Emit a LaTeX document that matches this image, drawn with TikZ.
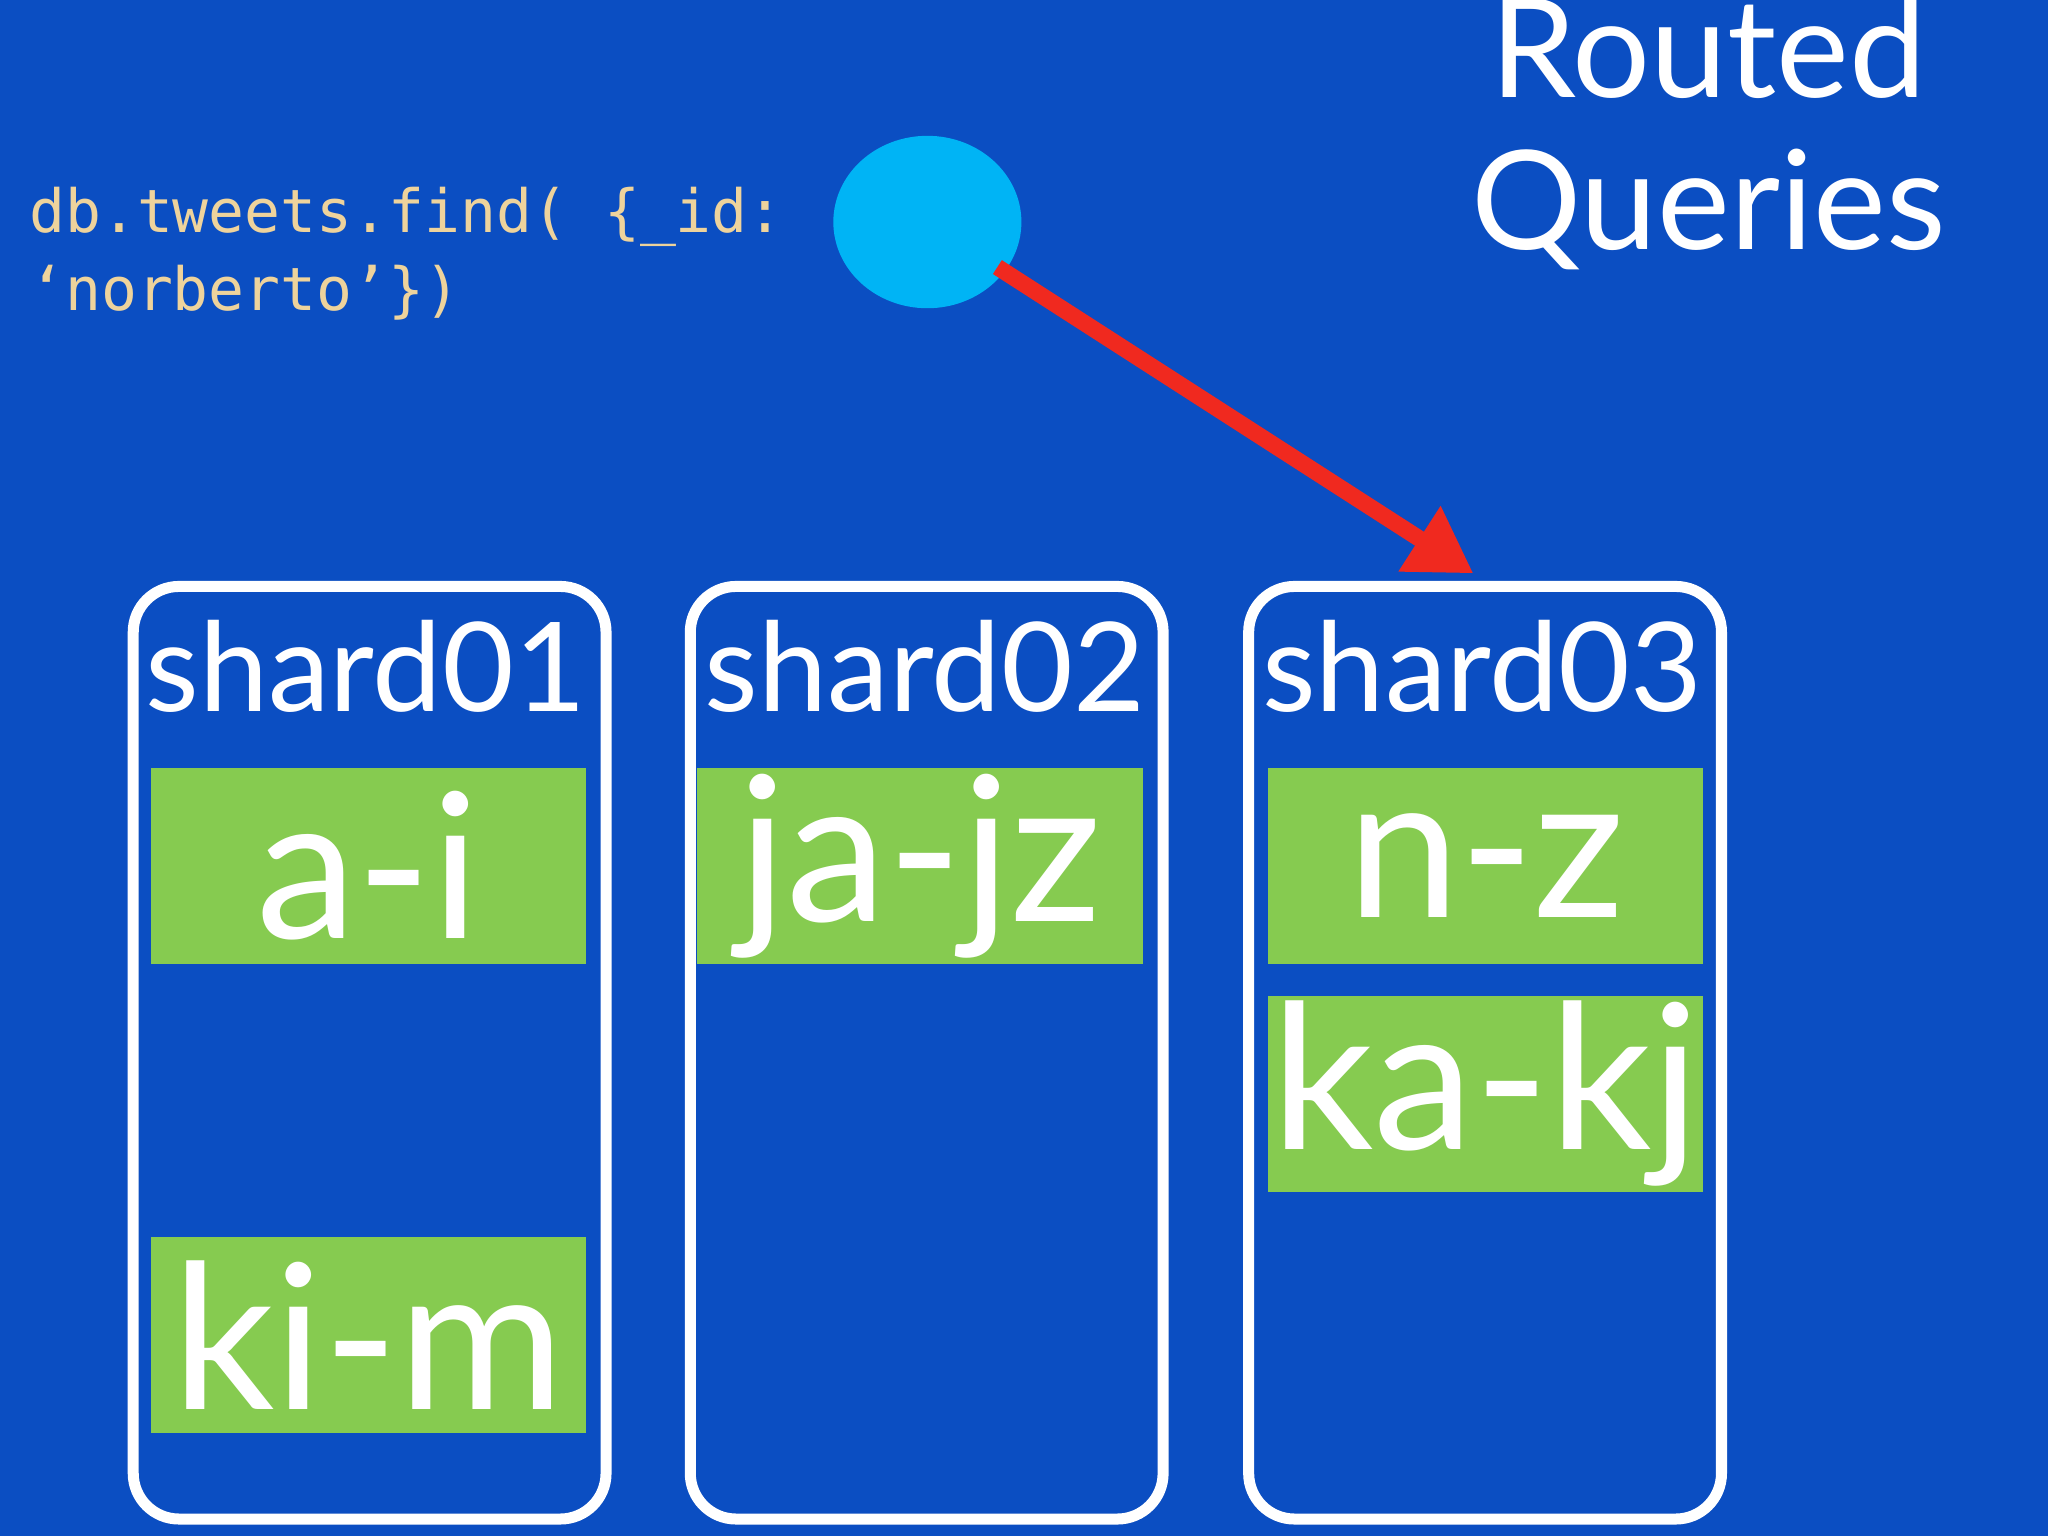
\documentclass[tikz,border=0pt]{standalone}
\usepackage{fontspec}
\setmainfont{Lato}
\setmonofont{DejaVu Sans Mono}
\usetikzlibrary{arrows.meta,shapes.geometric}
\definecolor{bgblue}{HTML}{0B4EC2}
\definecolor{dotblue}{HTML}{00B4F5}
\definecolor{chunkgreen}{HTML}{86CB50}
\definecolor{codetan}{HTML}{EED39C}
\definecolor{arrowred}{HTML}{F0291F}
\tikzset{
  shardbox/.style={draw=white, line width=2.4pt, rounded corners=0.35cm, minimum width=3.62cm, minimum height=7.14cm, inner sep=0},
  chunk/.style={fill=chunkgreen, minimum width=3.33cm, minimum height=1.5cm, inner sep=0, text=white, font=\fontsize{44}{44}\selectfont},
  shardlabel/.style={text=white, font=\fontsize{27}{27}\selectfont},
}
\begin{document}
\begin{tikzpicture}
\fill[bgblue] (0,0) rectangle (15.68,-11.76);
\useasboundingbox (0,0) rectangle (15.68,-11.76);
% query
\node[anchor=west, text=codetan, align=left, font=\ttfamily\fontsize{13}{17}\selectfont] (query) at (0.1,-1.94) {db.tweets.find( \{\_id:\\‘norberto’\})};
\node[text=white, align=center, font=\fontsize{30}{33}\selectfont] (title) at (13.08,-1.02) {Routed\\Queries};
\node[ellipse, fill=dotblue, minimum width=1.44cm, minimum height=1.32cm, inner sep=0] (router) at (7.10,-1.70) {};
% shards
\node[shardbox] (s1) at (2.83,-8.06) {};
\node[shardbox] (s2) at (7.095,-8.06) {};
\node[shardbox] (s3) at (11.37,-8.06) {};
\node[shardlabel] (l1) at (2.80,-5.10) {shard01};
\node[shardlabel] (l2) at (7.08,-5.10) {shard02};
\node[shardlabel] (l3) at (11.35,-5.10) {shard03};
% chunks
\node[chunk] (ai) at (2.82,-6.63) {a-i};
\node[chunk] (kim) at (2.82,-10.22) {ki-m};
\node[chunk, minimum width=3.41cm] (jajz) at (7.045,-6.63) {ja-jz};
\node[chunk] (nz) at (11.375,-6.63) {n-z};
\node[chunk] (kakj) at (11.375,-8.375) {ka-kj};
\draw[arrowred, line width=3.6pt, -{Triangle[length=14pt, width=16pt]}, shorten <=-2pt, shorten >=3pt] (router) -- (s3.north);
\end{tikzpicture}
\end{document}
